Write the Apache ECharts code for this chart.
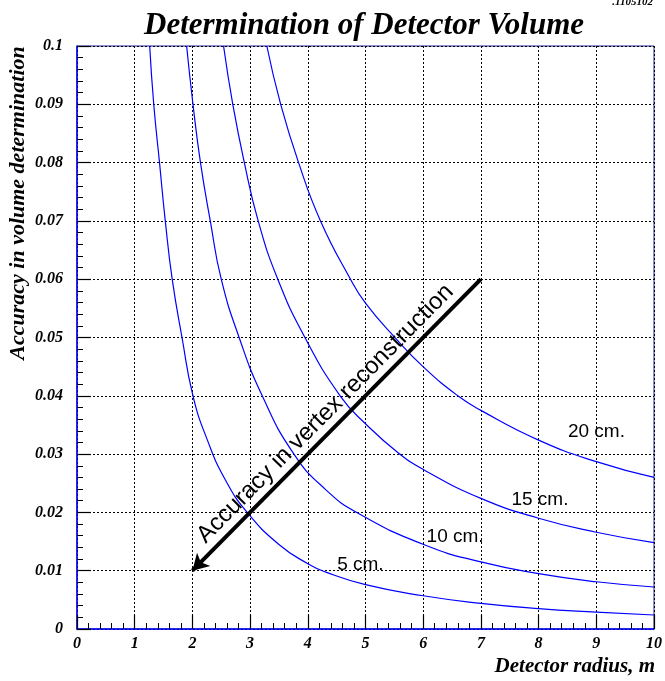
<!DOCTYPE html>
<html>
<head>
<meta charset="utf-8">
<script src="https://cdn.jsdelivr.net/npm/echarts@6/dist/echarts.min.js"></script>
<style>
html,body{margin:0;padding:0;background:#fff;}
#chart{width:665px;height:681px;}
</style>
</head>
<body>
<div id="chart"></div>
<script>
// Curve data: [radius (m), accuracy]
var curve5 = [[1.26,0.1],[1.33,0.09],[1.43,0.08],[1.53,0.07],[1.65,0.06],[1.82,0.05],[2.01,0.04],[2.26,0.0324],[2.57,0.0256],[2.95,0.02],[3.5,0.0145],[4.0,0.0112],[4.3,0.0098],[5,0.0076],[6,0.0057],[7,0.0044],[8,0.0035],[9,0.0029],[10,0.0024]];
var curve10 = [[1.90,0.1],[2.01,0.09],[2.14,0.08],[2.31,0.07],[2.50,0.06],[2.81,0.05],[3.21,0.04],[3.76,0.03],[4.3,0.024],[4.88,0.0198],[6.03,0.0144],[7,0.0115],[8,0.0095],[9,0.0081],[10,0.0072]];
var curve15 = [[2.54,0.1],[2.70,0.09],[2.90,0.08],[3.14,0.07],[3.48,0.06],[3.95,0.05],[4.56,0.04],[5.0,0.0352],[5.57,0.0302],[6.03,0.0272],[7,0.0224],[8,0.0190],[9,0.0166],[10,0.0148]];
var curve20 = [[3.29,0.1],[3.53,0.09],[3.84,0.08],[4.22,0.07],[4.74,0.06],[5.0,0.0559],[5.5,0.0501],[6.03,0.0447],[6.6,0.04],[7,0.0375],[8,0.0324],[9,0.0287],[10,0.026]];
var curveLabels = ['5 cm.','10 cm.','15 cm.','20 cm.'];
var labelPos = [[4.5,0.011],[6.05,0.0158],[7.52,0.0221],[8.5,0.0338]];
var arrowStart = [7,0.06];
var arrowEnd = [2,0.01];
var arrowText = 'Accuracy in vertex reconstruction';
var xTicks = {min:0,max:10,interval:1};
var yTicks = {min:0,max:0.1,interval:0.01};
var titleText = 'Determination of Detector Volume';
var xTitle = 'Detector radius, m';
var yTitle = 'Accuracy in volume determination';
var stampText = '.1105102';

var serifBI = {fontFamily:'"Liberation Serif","Times New Roman",serif',fontStyle:'italic',fontWeight:'bold'};
var chart = echarts.init(document.getElementById('chart'), null, {renderer:'canvas'});

function curveSeries(d){
  return {type:'line',data:d,showSymbol:false,symbol:'none',smooth:0.5,
    lineStyle:{color:'#0000ff',width:1.2},z:3,silent:true};
}
var series = [curve5,curve10,curve15,curve20].map(curveSeries);
series.push({
  type:'scatter',symbol:'circle',symbolSize:1,z:5,silent:true,
  itemStyle:{color:'rgba(0,0,0,0)',opacity:1},
  data:labelPos.map(function(p,i){return {value:p,name:curveLabels[i]};}),
  label:{show:true,position:'right',distance:0,formatter:function(p){return p.name;},
    color:'#000000',opacity:1,textBorderWidth:0,fontFamily:'"Liberation Sans",Arial,sans-serif',fontSize:19}
});
series.push({
  type:'line',data:[arrowStart,arrowEnd],symbol:'none',lineStyle:{width:0,opacity:0},z:6,silent:true,
  markLine:{silent:true,symbol:['none','arrow'],symbolSize:[14,16],
    lineStyle:{color:'#000',width:4,type:'solid'},
    label:{show:true,position:'middle',formatter:arrowText,color:'#000',distance:4,
      fontFamily:'"Liberation Sans",Arial,sans-serif',fontSize:24},
    data:[[{coord:arrowStart},{coord:arrowEnd}]]}
});

chart.setOption({
  animation:false,
  grid:{left:77,right:8,top:46,bottom:52,show:true,borderColor:'#1a1aa0',borderWidth:1},
  xAxis:{type:'value',min:xTicks.min,max:xTicks.max,interval:xTicks.interval,
    axisLine:{onZero:false,lineStyle:{color:'#0000ff',width:1.5}},
    axisTick:{inside:true,length:14,lineStyle:{color:'#000',width:1.2}},
    minorTick:{show:true,splitNumber:5,length:6,lineStyle:{color:'#000',width:1}},
    splitLine:{show:true,lineStyle:{color:'#000',width:1,type:[2,2]}},
    axisLabel:Object.assign({color:'#000',fontSize:16,margin:7},serifBI)},
  yAxis:{type:'value',min:yTicks.min,max:yTicks.max,interval:yTicks.interval,
    axisLine:{onZero:false,show:true,lineStyle:{color:'#0000ff',width:1.5}},
    axisTick:{show:true,inside:true,length:14,lineStyle:{color:'#000',width:1.2}},
    minorTick:{show:true,splitNumber:5,length:6,lineStyle:{color:'#000',width:1}},
    splitLine:{show:true,lineStyle:{color:'#000',width:1,type:[2,2]}},
    axisLabel:Object.assign({color:'#000',fontSize:16,margin:14,
      formatter:function(v){return String(Math.round(v*1000)/1000);}},serifBI)},
  graphic:[
    {type:'text',x:364,y:26,style:Object.assign({text:titleText,fontSize:31,fill:'#000',align:'center',verticalAlign:'middle'},serifBI)},
    {type:'text',x:655,y:667,style:Object.assign({text:xTitle,fontSize:21,fill:'#000',align:'right',verticalAlign:'middle'},serifBI)},
    {type:'text',x:18,y:203,rotation:Math.PI/2,style:Object.assign({text:yTitle,fontSize:22,fill:'#000',align:'center',verticalAlign:'middle'},serifBI)},
    {type:'text',x:653,y:2,style:Object.assign({text:stampText,fontSize:11,fill:'#000',align:'right',verticalAlign:'middle'},serifBI)}
  ],
  series:series
});
</script>
</body>
</html>
